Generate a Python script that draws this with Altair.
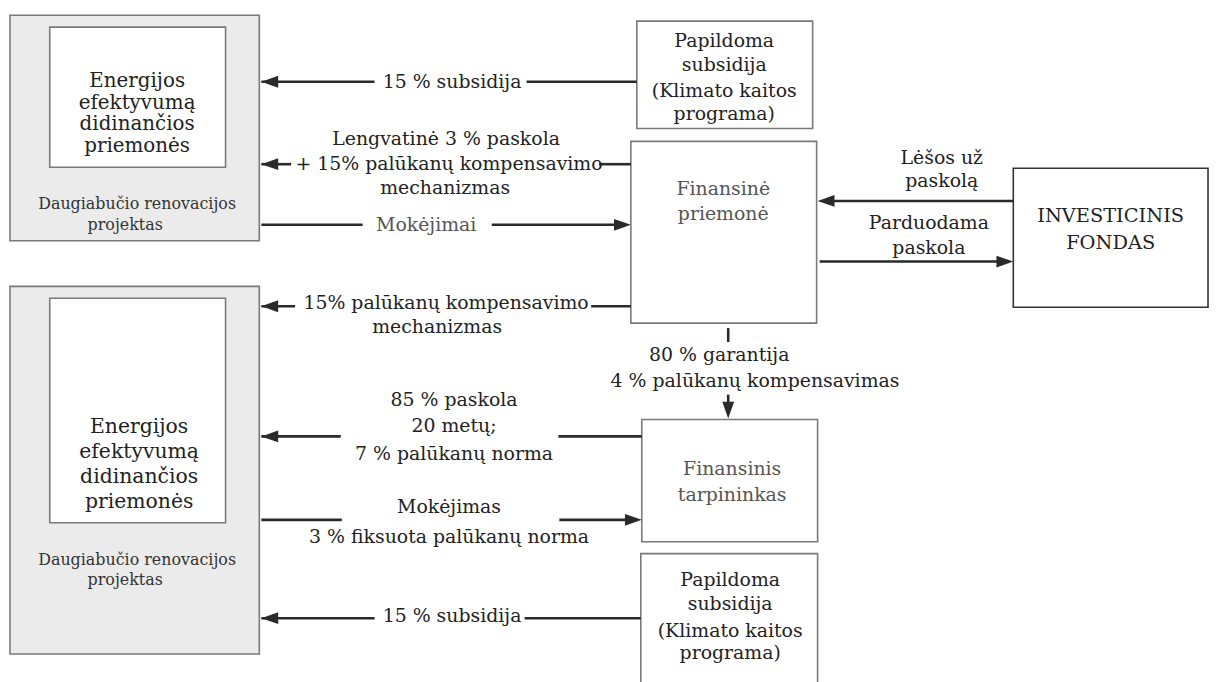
import altair as alt
import pandas as pd

# ---------------- text content ----------------
measures_lines = ["Energijos", "efektyvumą", "didinančios", "priemonės"]
project_lines = ["Daugiabučio renovacijos", "projektas"]
extra_subsidy_lines = ["Papildoma", "subsidija", "(Klimato kaitos", "programa)"]
fin_instrument_lines = ["Finansinė", "priemonė"]
fund_lines = ["INVESTICINIS", "FONDAS"]
intermediary_lines = ["Finansinis", "tarpininkas"]
lbl_subsidy = ["15 % subsidija"]
lbl_soft_loan = ["Lengvatinė 3 % paskola", "+ 15% palūkanų kompensavimo", "mechanizmas"]
lbl_payments = ["Mokėjimai"]
lbl_funds = ["Lėšos už", "paskolą"]
lbl_sold = ["Parduodama", "paskola"]
lbl_comp = ["15% palūkanų kompensavimo", "mechanizmas"]
lbl_guarantee = ["80 % garantija", "4 % palūkanų kompensavimas"]
lbl_loan85 = ["85 % paskola", "20 metų;", "7 % palūkanų norma"]
lbl_payment = ["Mokėjimas", "3 % fiksuota palūkanų norma"]

FONT = "DejaVu Serif"
DARK = "#222222"
GREY = "#555555"

# ---------------- layout (diagram positions) ----------------
boxes = pd.DataFrame([
    # x1, x2, y1, y2, fill, stroke
    (10, 261, 13, 240, "#ebebeb", "#7a7a7a"),
    (50, 227, 25, 166, "#ffffff", "#7a7a7a"),
    (10, 261, 286, 656, "#ebebeb", "#7a7a7a"),
    (50, 227, 298, 524, "#ffffff", "#7a7a7a"),
    (641, 818, 19, 127, "#ffffff", "#7a7a7a"),
    (635, 822, 140, 323, "#ffffff", "#7a7a7a"),
    (1020, 1216, 167, 307, "#ffffff", "#333333"),
    (646, 823, 420, 543, "#ffffff", "#7a7a7a"),
    (645, 823, 555, 700, "#ffffff", "#7a7a7a"),
], columns=["x1", "x2", "y1", "y2", "fill", "stroke"])

lines = pd.DataFrame([
    (263, 377, 80, 80), (530, 641, 80, 80),
    (263, 293, 163, 163), (603, 635, 163, 163),
    (263, 365, 224, 224), (495, 625, 224, 224),
    (830, 1020, 200, 200),
    (825, 1012, 261, 261),
    (733, 733, 328, 342),
    (733, 733, 395, 410),
    (263, 297, 306, 306), (595, 635, 306, 306),
    (263, 343, 437, 437), (562, 646, 437, 437),
    (263, 344, 521, 521), (563, 638, 521, 521),
    (263, 377, 620, 620), (528, 645, 620, 620),
], columns=["x1", "x2", "y1", "y2"])

LEFT = "M0,0L4,-1.4L4,1.4Z"
RIGHT = "M0,0L-4,-1.4L-4,1.4Z"
DOWN = "M0,0L-1.4,-4L1.4,-4Z"
heads = pd.DataFrame([
    (263, 80, LEFT), (263, 163, LEFT), (635, 224, RIGHT),
    (823, 200, LEFT), (1020, 261, RIGHT), (733, 419, DOWN),
    (263, 306, LEFT), (263, 437, LEFT), (646, 521, RIGHT), (263, 620, LEFT),
], columns=["x", "y", "shape"])


def block(lines_, cx, ys, fs, col, xs=None):
    rows = []
    for i, (t, y) in enumerate(zip(lines_, ys)):
        rows.append((t, xs[i] if xs else cx, y, fs, col))
    return rows


texts = []
texts += block(measures_lines, 138, [79, 101, 123, 145], 20, DARK)
texts += block(project_lines, 138, [203, 224], 16, "#333333", xs=[138, 126])
texts += block(measures_lines, 140, [428, 453, 478, 503], 20.5, DARK)
texts += block(project_lines, 138, [561, 582], 16, "#333333", xs=[138, 126])
texts += block(lbl_subsidy, 455, [80], 19, DARK)
texts += block(lbl_soft_loan, 450, [138, 163, 187], 19, DARK, xs=[449, 452, 448])
texts += block(lbl_payments, 429, [224], 19, GREY)
texts += block(extra_subsidy_lines, 729, [39, 63, 89, 112], 19, DARK)
texts += block(fin_instrument_lines, 728, [188, 213], 19, GREY)
texts += block(lbl_funds, 948, [157, 180], 19, DARK)
texts += block(lbl_sold, 935, [222, 247], 19, DARK)
texts += block(fund_lines, 1118, [215, 242], 19.5, DARK)
texts += block(lbl_comp, 449, [303, 327], 19, DARK, xs=[449, 440])
texts += block(lbl_guarantee, 724, [355, 381], 19, DARK, xs=[724, 760])
texts += block(lbl_loan85, 457, [400, 427, 455], 19, DARK)
texts += block(lbl_payment, 452, [508, 538], 19, DARK)
texts += block(intermediary_lines, 737, [470, 496], 19, GREY)
texts += block(lbl_subsidy, 455, [618], 19, DARK)
texts += block(extra_subsidy_lines, 735, [582, 606, 633, 655], 19, DARK)
text_df = pd.DataFrame(texts, columns=["t", "x", "y", "fs", "col"])

xs = alt.Scale(domain=[8, 1210])
ys = alt.Scale(domain=[8, 674], reverse=True)
X = lambda f: alt.X(f, type="quantitative", scale=xs, axis=None)
Y = lambda f: alt.Y(f, type="quantitative", scale=ys, axis=None)

rects = alt.Chart(boxes).mark_rect(strokeWidth=1.6).encode(
    x=X("x1"), x2="x2", y=Y("y1"), y2="y2",
    fill=alt.Fill("fill:N", scale=None),
    stroke=alt.Stroke("stroke:N", scale=None),
)

rules = alt.Chart(lines).mark_rule(color="#2a2a2a", strokeWidth=2.6).encode(
    x=X("x1"), x2="x2", y=Y("y1"), y2="y2",
)

arrowheads = alt.Chart(heads).mark_point(filled=True, opacity=1, size=72, color="#2a2a2a", strokeWidth=0).encode(
    x=X("x"), y=Y("y"), shape=alt.Shape("shape:N", scale=None),
)

labels = alt.Chart(text_df).mark_text(font=FONT, align="center", baseline="middle").encode(
    x=X("x"), y=Y("y"), text="t:N",
    size=alt.Size("fs:Q", scale=None),
    color=alt.Color("col:N", scale=None),
)

chart = alt.layer(rects, rules, arrowheads, labels).properties(
    width=1202, height=666,
    padding={"left": 0, "top": 0, "right": 8, "bottom": 8},
    autosize=alt.AutoSizeParams(type="none"),
    background="white",
).configure_view(stroke=None)

chart.save("out.html", embed_options={"renderer": "svg", "actions": False})
